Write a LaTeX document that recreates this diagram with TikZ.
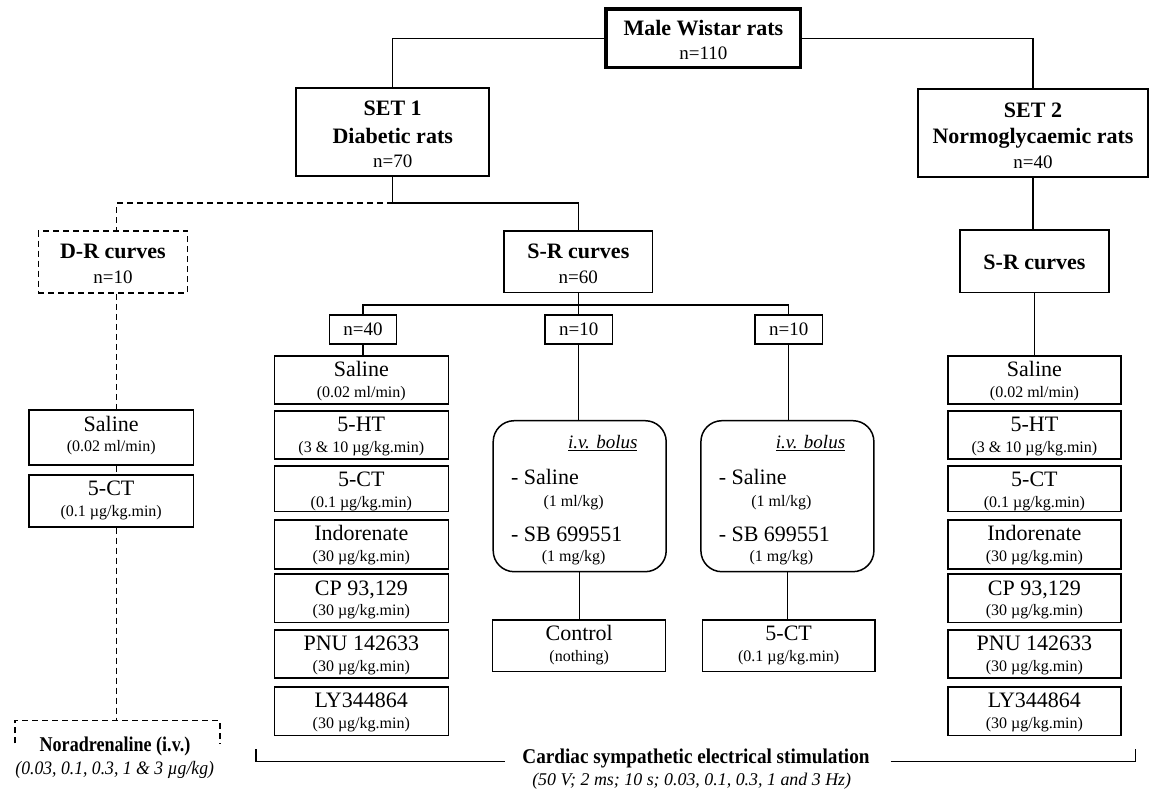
\documentclass[tikz,border=0pt]{standalone}
\usepackage{fontspec}
\setmainfont{Liberation Serif}
\newfontfamily\cndA{Liberation Serif}[FakeStretch=0.86]
\newfontfamily\cndB{Liberation Serif}[FakeStretch=0.914]
\newfontfamily\cndC{Liberation Serif}[FakeStretch=0.93]
\usetikzlibrary{calc}
\tikzset{
 bx/.style={draw=black, line width=1.5pt, inner sep=0pt},
 thickbx/.style={bx, line width=3.3pt},
 setbx/.style={bx, line width=2.2pt},
 rbx/.style={bx, rounded corners=21pt},
 dbx/.style={bx, dash pattern=on 6pt off 4pt},
 conn/.style={line width=1.3pt},
 dconn/.style={conn, dash pattern=on 6pt off 4pt},
 ttl/.style={inner sep=0pt, font=\fontsize{22}{26}\selectfont\bfseries, text height=14.5pt, text depth=0pt},
 nn/.style={inner sep=0pt, font=\fontsize{19}{22}\selectfont, text height=12.6pt, text depth=0pt},
 drg/.style={inner sep=0pt, font=\fontsize{22}{26}\selectfont, text height=14.5pt, text depth=0pt},
 sub/.style={inner sep=0pt, font=\fontsize{16}{19}\selectfont, text height=10.8pt, text depth=0pt},
 ivb/.style={inner sep=0pt, font=\fontsize{19}{22}\selectfont\itshape, text height=12.6pt, text depth=0pt},
 botb/.style={inner sep=0pt, font=\cndA\fontsize{21}{25}\selectfont\bfseries, text height=14pt, text depth=0pt},
 boti/.style={inner sep=0pt, font=\cndC\fontsize{19}{22}\selectfont\itshape, text height=12.6pt, text depth=0pt},
 cardb/.style={inner sep=0pt, font=\cndB\fontsize{21}{25}\selectfont\bfseries, text height=14pt, text depth=0pt},
 cardi/.style={inner sep=0pt, font=\fontsize{17.9}{21}\selectfont\itshape, text height=12pt, text depth=0pt},
}
\newcommand\drugbox[7]{%
 \node[bx, anchor=north, minimum width=#4, minimum height=#5] (#1) at (#2,#3) {};
 \node[drg] (#1-t) at ($(#1.north)+(0,14.5)$) {#6};
 \node[sub] (#1-s) at ($(#1.north)+(0,36.8)$) {#7};}
\newcommand\bolusbox[2]{%
 \node[rbx, minimum width=173, minimum height=151] (#1) at (#2,496.2) {};
 \node[ivb, anchor=east] (#1-iv) at ($(#1.north east)+(-29.3,22.6)$) {\underline{i.v. bolus}};
 \node[drg, anchor=west] (#1-sa) at ($(#1.north west)+(18.4,57.6)$) {- Saline};
 \node[sub] (#1-sad) at ($(#1.north west)+(81.2,81)$) {(1 ml/kg)};
 \node[drg, anchor=west] (#1-sb) at ($(#1.north west)+(18.4,114.3)$) {- SB 699551};
 \node[sub] (#1-sbd) at ($(#1.north west)+(81.2,136.5)$) {(1 mg/kg)};}
\begin{document}
\begin{tikzpicture}[x=1pt,y=-1pt]
\useasboundingbox (0,0) rectangle (1151,789);

% top level
\node[thickbx, minimum width=194.7, minimum height=58.7] (male) at (703.4,38.4) {};
\node[ttl] (male-t) at (703.4,28.3) {Male Wistar rats};
\node[nn] (male-n) at (703.4,53.3) {n=110};

\node[setbx, minimum width=193.3, minimum height=87.7] (set1) at (392.7,132.2) {};
\node[ttl] (set1-a) at (392.7,108.3) {SET 1};
\node[ttl] (set1-b) at (392.7,136.7) {Diabetic rats};
\node[nn] (set1-n) at (392.7,161) {n=70};

\node[setbx, minimum width=230.6, minimum height=88] (set2) at (1033,133.3) {};
\node[ttl] (set2-a) at (1033,110) {SET 2};
\node[ttl] (set2-b) at (1033,136.7) {Normoglycaemic rats};
\node[nn] (set2-n) at (1033,161.7) {n=40};

% second level
\node[dbx, minimum width=149.2, minimum height=62] (dr) at (112.9,262) {};
\node[ttl] (dr-t) at (112.9,251.7) {D-R curves};
\node[nn] (dr-n) at (112.9,276.7) {n=10};

\node[bx, minimum width=148.5, minimum height=61.3] (sr1) at (578.3,261.7) {};
\node[ttl] (sr1-t) at (578.3,251.7) {S-R curves};
\node[nn] (sr1-n) at (578.3,276.7) {n=60};

\node[bx, minimum width=149, minimum height=62.3] (sr2) at (1034.5,261.2) {};
\node[ttl] (sr2-t) at (1034.5,262.5) {S-R curves};

% n boxes
\node[bx, nn, draw, minimum width=67.4, minimum height=29] (n40) at (363,329.5) {n=40};
\node[bx, nn, draw, minimum width=67.3, minimum height=29] (n10a) at (578.7,329.5) {n=10};
\node[bx, nn, draw, minimum width=67.3, minimum height=29] (n10b) at (788.7,329.5) {n=10};

% left column
\drugbox{l1}{111.2}{409.3}{164.3}{54.7}{Saline}{(0.02 ml/min)}
\drugbox{l2}{111.2}{474}{164.3}{52}{5-CT}{(0.1 µg/kg.min)}

% set 1 column
\drugbox{a1}{361.3}{355}{174}{48.3}{Saline}{(0.02 ml/min)}
\drugbox{a2}{361.3}{410}{174}{48.3}{5-HT}{(3 \& 10 µg/kg.min)}
\drugbox{a3}{361.3}{465}{174}{45.7}{5-CT}{(0.1 µg/kg.min)}
\drugbox{a4}{361.3}{519}{174}{49.3}{Indorenate}{(30 µg/kg.min)}
\drugbox{a5}{361.3}{573.3}{174}{48.4}{CP 93,129}{(30 µg/kg.min)}
\drugbox{a6}{361.3}{629}{174}{48.3}{PNU 142633}{(30 µg/kg.min)}
\drugbox{a7}{361.3}{686}{174}{48.7}{LY344864}{(30 µg/kg.min)}

% set 2 column
\drugbox{r1}{1034.4}{355}{173.3}{48.3}{Saline}{(0.02 ml/min)}
\drugbox{r2}{1034.4}{410}{173.3}{48.3}{5-HT}{(3 \& 10 µg/kg.min)}
\drugbox{r3}{1034.4}{465}{173.3}{45.7}{5-CT}{(0.1 µg/kg.min)}
\drugbox{r4}{1034.4}{519}{173.3}{49.3}{Indorenate}{(30 µg/kg.min)}
\drugbox{r5}{1034.4}{573.3}{173.3}{48.4}{CP 93,129}{(30 µg/kg.min)}
\drugbox{r6}{1034.4}{629}{173.3}{48.3}{PNU 142633}{(30 µg/kg.min)}
\drugbox{r7}{1034.4}{686}{173.3}{48.7}{LY344864}{(30 µg/kg.min)}

% bolus boxes
\bolusbox{ba}{579.7}
\bolusbox{bb}{787.4}

\drugbox{ctl}{579.2}{619}{173}{51.7}{Control}{(nothing)}
\drugbox{ctb}{788.7}{619}{172.7}{51.7}{5-CT}{(0.1 µg/kg.min)}

% bottom labels
\node[botb] (nor) at (115,744) {Noradrenaline (i.v.)};
\node[boti] (nor-d) at (114.7,768) {(0.03, 0.1, 0.3, 1 \& 3 µg/kg)};
\node[cardb] (card) at (696,756.7) {Cardiac sympathetic electrical stimulation};
\node[cardi] (card-d) at (691.7,779.3) {(50 V; 2 ms; 10 s; 0.03, 0.1, 0.3, 1 and 3 Hz)};

% coordinates
\coordinate (j1) at (392.7,203);
\coordinate (j2) at (578.3,305);
\coordinate (dlx) at (116.7,0);
\coordinate (nbt) at (116.7,720.7);
\coordinate (nbl) at (15,743.3);
\coordinate (nbr) at (220,743.3);
\coordinate (cbl) at (256,749.3);
\coordinate (cbl2) at (256,761.7);
\coordinate (cbm1) at (505,761.7);
\coordinate (cbm2) at (890.7,761.7);
\coordinate (cbr2) at (1135.5,761.7);
\coordinate (cbr) at (1135.5,748.5);

% connectors
\draw[conn] (male.west) -| (set1.north);
\draw[conn] (male.east) -| (set2.north);
\draw[conn] (set1.south) -- (j1) -| (sr1.north);
\draw[dconn] (j1) -| (dlx |- dr.north);
\draw[dconn] (dlx |- dr.south) -- (dlx |- l1.north);
\draw[dconn] (dlx |- l1.south) -- (dlx |- l2.north);
\draw[dconn] (dlx |- l2.south) -- (nbt);
\draw[dconn] (nbl) -- (nbl |- nbt) -- (nbr |- nbt) -- (nbr);
\draw[conn] (sr1.south) -- (sr1.south |- n10a.north);
\draw[conn] (n40.north) |- (n10b.north |- j2) -- (n10b.north);
\draw[conn] (n40.south) -- (n40.south |- a1.north);
\draw[conn] (n10a.south) -- (n10a.south |- ba.north);
\draw[conn] (n10b.south) -- (n10b.south |- bb.north);
\draw[conn] (ba.south) -- (ba.south |- ctl.north);
\draw[conn] (bb.south) -- (bb.south |- ctb.north);
\draw[conn] (set2.south) -- (set2.south |- sr2.north);
\draw[conn] (sr2.south) -- (sr2.south |- r1.north);
\draw[conn] (cbl) -- (cbl2) -- (cbm1);
\draw[conn] (cbm2) -- (cbr2) -- (cbr);
\end{tikzpicture}
\end{document}
